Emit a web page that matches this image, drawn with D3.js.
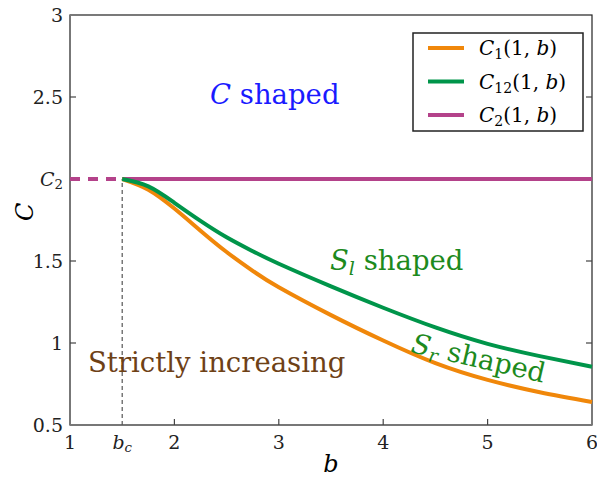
<!DOCTYPE html>
<html>
<head>
<meta charset="utf-8">
<script src="https://cdn.jsdelivr.net/npm/d3@7"></script>
<style>
  body { margin: 0; background: #fff; }
</style>
</head>
<body>
<svg width="597" height="479"></svg>
<script>
// values
var bc = 1.5, C2 = 2;
var bVals   = [1.5, 1.75, 2, 2.25, 2.5, 2.75, 3, 3.5, 4, 4.5, 5, 5.5, 6];
var c12Vals = [2.0, 1.955, 1.855, 1.745, 1.645, 1.56, 1.483, 1.345, 1.215, 1.095, 0.995, 0.92, 0.855];
var c1Vals  = [2.0, 1.935, 1.82, 1.685, 1.555, 1.44, 1.34, 1.17, 1.015, 0.877, 0.775, 0.70, 0.64];
var xTicks = [1, 1.5, 2, 3, 4, 5, 6];
var yTicks = [0.5, 1, 1.5, 2, 2.5, 3];

var FONT = "DejaVu Serif";

var svg = d3.select("svg");
var x = d3.scaleLinear().domain([1, 6]).range([70, 592]),
    y = d3.scaleLinear().domain([0.5, 3]).range([425, 15]);

var orange = "#f0870a", green = "#00954a", purple = "#b4428a";

function txt(parent) {
  return parent.append("text").attr("font-family", FONT);
}

// sub-script helper: parts = [[text, italic, sub], ...]
function rich(sel, parts, size) {
  parts.forEach(function (p) {
    var t = sel.append("tspan").attr("font-family", FONT).text(p[0]);
    if (p[1]) t.attr("font-style", "italic");
    if (p[2]) t.attr("font-size", size * 0.7).attr("baseline-shift", "-25%");
  });
}

// frame
svg.append("rect").attr("x", x(1)).attr("y", y(3))
  .attr("width", x(6) - x(1)).attr("height", y(0.5) - y(3))
  .attr("fill", "none").attr("stroke", "#222").attr("stroke-width", 1.2);
svg.append("line").attr("x1", x(1)).attr("x2", x(1)).attr("y1", y(3)).attr("y2", y(0.5))
  .attr("stroke", "#777").attr("stroke-width", 2);
svg.append("line").attr("x1", x(1)).attr("x2", x(6)).attr("y1", y(0.5)).attr("y2", y(0.5))
  .attr("stroke", "#777").attr("stroke-width", 2);

// inward ticks
var ax = svg.append("g").attr("stroke", "#444").attr("stroke-width", 1.2);
xTicks.filter(function (d) { return d > 1 && d < 6 && d != bc; }).forEach(function (d) {
  ax.append("line").attr("x1", x(d)).attr("x2", x(d)).attr("y1", y(0.5)).attr("y2", y(0.5) - 6);
});
yTicks.filter(function (d) { return d > 0.5 && d < 3; }).forEach(function (d) {
  ax.append("line").attr("x1", x(1)).attr("x2", x(1) + 6).attr("y1", y(d)).attr("y2", y(d));
  ax.append("line").attr("x1", x(6)).attr("x2", x(6) - 6).attr("y1", y(d)).attr("y2", y(d));
});

// tick labels
xTicks.forEach(function (d) {
  var t = txt(svg).attr("x", x(d)).attr("y", y(0.5) + 24)
    .attr("text-anchor", "middle").attr("font-size", 19).attr("fill", "#222");
  if (d == bc) rich(t, [["b", true], ["c", true, true]], 19);
  else t.text(d);
});
yTicks.forEach(function (d) {
  var t = txt(svg).attr("x", x(1) - 7).attr("y", y(d) + 7)
    .attr("text-anchor", "end").attr("font-size", 19).attr("fill", "#222");
  if (d == C2) rich(t, [["C", true], ["2", false, true]], 19);
  else t.text(d);
});

// axis titles
txt(svg).attr("x", 331).attr("y", 472).attr("text-anchor", "middle")
  .attr("font-size", 24).attr("font-style", "italic").text("b");
txt(svg).attr("transform", "translate(33," + y(1.8) + ") rotate(-90)")
  .attr("text-anchor", "middle").attr("font-size", 24).attr("font-style", "italic").text("C");

// b_c guide
svg.append("line").attr("x1", x(bc)).attr("x2", x(bc)).attr("y1", y(0.5)).attr("y2", y(C2))
  .attr("stroke", "#555").attr("stroke-width", 1.2).attr("stroke-dasharray", "4,3");

// curves
var line = d3.line().curve(d3.curveNatural)
  .x(function (d) { return x(d[0]); }).y(function (d) { return y(d[1]); });

svg.append("path").datum([[1, C2], [bc, C2]]).attr("d", line)
  .attr("fill", "none").attr("stroke", purple).attr("stroke-width", 4).attr("stroke-dasharray", "10,8");
svg.append("path").datum([[bc, C2], [6, C2]]).attr("d", line)
  .attr("fill", "none").attr("stroke", purple).attr("stroke-width", 4);
svg.append("path").datum(d3.zip(bVals, c1Vals)).attr("d", line)
  .attr("fill", "none").attr("stroke", orange).attr("stroke-width", 4);
svg.append("path").datum(d3.zip(bVals, c12Vals)).attr("d", line)
  .attr("fill", "none").attr("stroke", green).attr("stroke-width", 4);

// region labels
var LS = 27.5;
var t1 = txt(svg).attr("x", 210).attr("y", 104).attr("font-size", LS).attr("fill", "#1a1aff");
rich(t1, [["C", true], [" shaped"]], LS);
var t2 = txt(svg).attr("x", 330).attr("y", 270).attr("font-size", LS).attr("fill", "#1d8a1d");
rich(t2, [["S", true], ["l", true, true], [" shaped"]], LS);
var t3 = txt(svg).attr("transform", "translate(410,352) rotate(13)")
  .attr("font-size", LS).attr("fill", "#1d8a1d");
rich(t3, [["S", true], ["r", true, true], [" shaped"]], LS);
txt(svg).attr("x", 88).attr("y", 372).attr("font-size", LS).attr("fill", "#6e4116")
  .text("Strictly increasing");

// legend
var lg = svg.append("g");
lg.append("rect").attr("x", 413).attr("y", 33).attr("width", 170).attr("height", 98)
  .attr("fill", "#fff").attr("stroke", "#222").attr("stroke-width", 1.5);
var legItems = [
  {c: orange, parts: [["C", true], ["1", false, true], ["(1, "], ["b", true], [")"]]},
  {c: green, parts: [["C", true], ["12", false, true], ["(1, "], ["b", true], [")"]]},
  {c: purple, parts: [["C", true], ["2", false, true], ["(1, "], ["b", true], [")"]]}
];
legItems.forEach(function (d, i) {
  var yy = 48 + i * 33.5;
  lg.append("line").attr("x1", 428).attr("x2", 464).attr("y1", yy).attr("y2", yy)
    .attr("stroke", d.c).attr("stroke-width", 4);
  var t = txt(lg).attr("x", 479).attr("y", yy + 7).attr("font-size", 20);
  rich(t, d.parts, 20);
});
</script>
</body>
</html>
